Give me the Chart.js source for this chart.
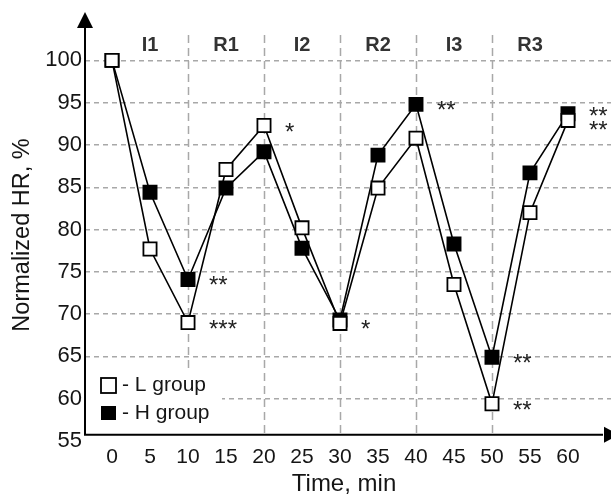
<!DOCTYPE html>
<html>
<head>
<meta charset="utf-8">
<script src="https://cdn.jsdelivr.net/npm/chart.js@4.4.0/dist/chart.umd.min.js"></script>
<style>
  body { margin: 0; background: #fff; }
  canvas { display: block; }
</style>
</head>
<body>
<canvas id="hrChart" width="611" height="496"></canvas>
<script>
// data
const times = [0, 5, 10, 15, 20, 25, 30, 35, 40, 45, 50, 55, 60];
const lGroup = [100, 77.7, 69.0, 87.1, 92.3, 80.2, 68.9, 84.9, 90.8, 73.5, 59.4, 82.0, 92.9];
const hGroup = [100, 84.4, 74.1, 84.9, 89.2, 77.8, 69.3, 88.8, 94.8, 78.3, 64.9, 86.7, 93.7];
const lStars = ['', '', '***', '', '*', '', '*', '', '', '', '**', '', '**'];
const hStars = ['', '', '**', '', '', '', '', '', '**', '', '**', '', '**'];
const phaseLabels = ['I1', 'R1', 'I2', 'R2', 'I3', 'R3'];
const phaseMid = [5, 15, 25, 35, 45, 55];
const phaseBounds = [10, 20, 30, 40, 50];
const xTicks = [0, 5, 10, 15, 20, 25, 30, 35, 40, 45, 50, 55, 60];
const yTicks = [55, 60, 65, 70, 75, 80, 85, 90, 95, 100];

const FONT = 'Liberation Sans, Arial, sans-serif';
const TXT = '#151515';

const decorPlugin = {
    id: 'decor',
    beforeDatasetsDraw(chart) {
        const ctx = chart.ctx;
        const xs = chart.scales.x, ys = chart.scales.y;
        const area = chart.chartArea;
        const axisY = ys.getPixelForValue(55.75);

        // vertical phase separators
        ctx.save();
        ctx.strokeStyle = '#a8a8a8';
        ctx.lineWidth = 1.5;
        ctx.setLineDash([8, 5]);
        phaseBounds.forEach(v => {
            const px = Math.round(xs.getPixelForValue(v)) + 0.5;
            ctx.beginPath();
            ctx.moveTo(px, area.top);
            ctx.lineTo(px, axisY);
            ctx.stroke();
        });
        ctx.restore();

        // legend box
        ctx.save();
        ctx.fillStyle = '#fff';
        ctx.fillRect(area.left + 1, 369, 136, axisY - 369);
        ctx.strokeStyle = '#000';
        ctx.lineWidth = 1.8;
        ctx.fillStyle = '#fff';
        ctx.fillRect(101, 378, 15, 15);
        ctx.strokeRect(101, 378, 15, 15);
        ctx.fillStyle = '#000';
        ctx.fillRect(101, 406, 15, 14);
        ctx.font = '21px ' + FONT;
        ctx.fillStyle = TXT;
        ctx.textBaseline = 'middle';
        ctx.fillText('- L group', 122, 385);
        ctx.fillText('- H group', 122, 413);
        ctx.restore();
    },
    afterDraw(chart) {
        const ctx = chart.ctx;
        const xs = chart.scales.x, ys = chart.scales.y;
        const area = chart.chartArea;
        const axisY = ys.getPixelForValue(55.75);
        const axisX = area.left;

        ctx.save();
        // axes with arrows
        ctx.strokeStyle = '#000';
        ctx.fillStyle = '#000';
        ctx.lineWidth = 2;
        ctx.beginPath();
        ctx.moveTo(axisX, 26);
        ctx.lineTo(axisX, axisY);
        ctx.lineTo(area.right - 8, axisY);
        ctx.stroke();
        ctx.beginPath();
        ctx.moveTo(axisX, 12);
        ctx.lineTo(axisX - 8, 28);
        ctx.lineTo(axisX + 8, 28);
        ctx.closePath();
        ctx.fill();
        ctx.beginPath();
        ctx.moveTo(area.right + 8, axisY);
        ctx.lineTo(area.right - 7, axisY - 8);
        ctx.lineTo(area.right - 7, axisY + 8);
        ctx.closePath();
        ctx.fill();

        // phase labels
        ctx.font = 'bold 20px ' + FONT;
        ctx.fillStyle = '#333';
        ctx.textAlign = 'center';
        ctx.textBaseline = 'middle';
        phaseLabels.forEach((t, i) => {
            ctx.fillText(t, xs.getPixelForValue(phaseMid[i]), 45);
        });

        // significance marks
        ctx.font = '24px ' + FONT;
        ctx.fillStyle = '#222';
        ctx.textAlign = 'left';
        ctx.textBaseline = 'alphabetic';
        times.forEach((t, i) => {
            const px = xs.getPixelForValue(t) + 21;
            let yl = ys.getPixelForValue(lGroup[i]) + 1;
            let yh = ys.getPixelForValue(hGroup[i]) + 1;
            if (lStars[i] && hStars[i] && Math.abs(yl - yh) < 14) {
                const m = (yl + yh) / 2;
                yh = m - 7; yl = m + 7;
            }
            if (lStars[i]) ctx.fillText(lStars[i], px, yl + 13);
            if (hStars[i]) ctx.fillText(hStars[i], px, yh + 13);
        });

        // axis titles
        ctx.fillStyle = TXT;
        ctx.textAlign = 'center';
        ctx.textBaseline = 'middle';
        ctx.font = '24px ' + FONT;
        ctx.fillText('Time, min', 344, 484);
        ctx.font = '23.5px ' + FONT;
        ctx.translate(23, 235);
        ctx.rotate(-Math.PI / 2);
        ctx.fillText('Normalized HR, %', 0, 0);
        ctx.restore();
    }
};

const ctx = document.getElementById('hrChart').getContext('2d');
new Chart(ctx, {
    type: 'line',
    data: {
        datasets: [{
            label: 'L group',
            data: times.map((t, i) => ({ x: t, y: lGroup[i] })),
            borderColor: '#000',
            borderWidth: 1.6,
            pointStyle: 'rect',
            pointRadius: 9.3,
            pointBackgroundColor: '#fff',
            pointBorderColor: '#000',
            pointBorderWidth: 1.8,
            tension: 0
        }, {
            label: 'H group',
            data: times.map((t, i) => ({ x: t, y: hGroup[i] })),
            borderColor: '#000',
            borderWidth: 1.6,
            pointStyle: 'rect',
            pointRadius: 9.3,
            pointBackgroundColor: '#000',
            pointBorderColor: '#000',
            pointBorderWidth: 1.8,
            tension: 0
        }]
    },
    options: {
        responsive: false,
        devicePixelRatio: 1,
        animation: false,
        layout: { autoPadding: false, padding: { top: 35, left: 0, right: 0, bottom: 0 } },
        plugins: {
            legend: { display: false },
            tooltip: { enabled: false }
        },
        scales: {
            x: {
                type: 'linear',
                min: -3.553,
                max: 65.66,
                afterBuildTicks: s => { s.ticks = xTicks.map(v => ({ value: v })); },
                afterFit: s => { s.height = 55; s.paddingLeft = 0; s.paddingRight = 0; },
                grid: { display: false },
                border: { display: false },
                ticks: { font: { family: FONT, size: 21 }, color: TXT, padding: -4, maxRotation: 0, autoSkip: false }
            },
            y: {
                min: 55,
                max: 103,
                afterBuildTicks: s => { s.ticks = yTicks.map(v => ({ value: v })); },
                afterFit: s => { s.width = 85; s.paddingTop = 0; s.paddingBottom = 0; },
                grid: {
                    color: c => (c.tick && c.tick.value === 55) ? 'rgba(0,0,0,0)' : '#a8a8a8',
                    lineWidth: 1.5,
                    drawTicks: false
                },
                border: { display: false, dash: [5, 4] },
                ticks: { font: { family: FONT, size: 22 }, color: TXT, padding: 3 }
            }
        }
    },
    plugins: [decorPlugin]
});
</script>
</body>
</html>
